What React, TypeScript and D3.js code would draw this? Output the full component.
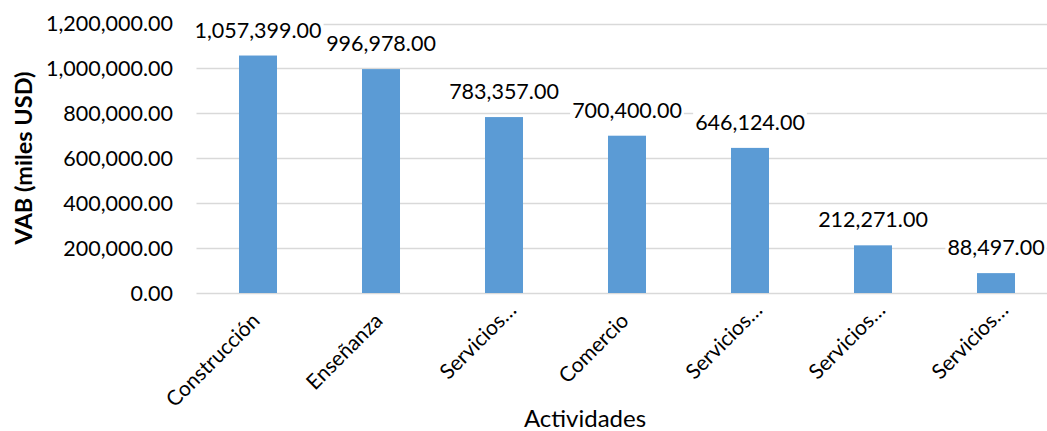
import React, { useEffect, useRef } from "react";
import * as d3 from "d3";

const categories = ["Construcción", "Enseñanza", "Servicios…", "Comercio", "Servicios…", "Servicios…", "Servicios…"];
const values = [1057399, 996978, 783357, 700400, 646124, 212271, 88497];
const yTicks = [0, 200000, 400000, 600000, 800000, 1000000, 1200000];
const yTitle = "VAB (miles USD)";
const xTitle = "Actividades";

const W = 1047;
const H = 431;
const FONT = "Lato, 'Noto Sans', sans-serif";

export default function App() {
  const ref = useRef<SVGSVGElement>(null);
  useEffect(() => {
    const svg = d3.select(ref.current);
    svg.selectAll("*").remove();
    const x0 = 196.5;
    const step = 123;
    const x = d3
      .scaleBand<number>()
      .domain(d3.range(categories.length))
      .range([x0, x0 + step * categories.length])
      .paddingInner(0.691)
      .paddingOuter(0.3455);
    const y = d3.scaleLinear().domain([0, 1200000]).range([293, 23.5]);
    const fmt = d3.format(",.2f");

    svg
      .append("g")
      .selectAll("line")
      .data(yTicks)
      .join("line")
      .attr("x1", x0)
      .attr("x2", x0 + step * categories.length)
      .attr("y1", (d) => Math.round(y(d)) + 0.5)
      .attr("y2", (d) => Math.round(y(d)) + 0.5)
      .attr("stroke", "#d9d9d9")
      .attr("stroke-width", 1.5);

    svg
      .append("g")
      .selectAll("text")
      .data(yTicks)
      .join("text")
      .attr("x", 173)
      .attr("y", (d) => y(d))
      .attr("dy", "0.35em")
      .attr("text-anchor", "end")
      .attr("font-family", FONT)
      .attr("font-size", 21.5)
      .attr("fill", "#000")
      .text((d) => fmt(d));

    svg
      .append("g")
      .selectAll("rect")
      .data(values)
      .join("rect")
      .attr("x", (_, i) => x(i)!)
      .attr("width", x.bandwidth())
      .attr("y", (d) => y(d))
      .attr("height", (d) => y(0) - y(d))
      .attr("fill", "#5b9bd5");

    const lg = svg.append("g");
    values.forEach((v, i) => {
      const cx = x(i)! + x.bandwidth() / 2;
      const g = lg.append("g");
      const bg = g.append("rect").attr("fill", "#fff");
      const t = g
        .append("text")
        .attr("x", cx)
        .attr("y", y(v) - 18)
        .attr("text-anchor", "middle")
        .attr("font-family", FONT)
        .attr("font-size", 21.5)
        .attr("fill", "#000")
        .text(fmt(v));
      const bb = (t.node() as SVGTextElement).getBBox();
      bg.attr("x", bb.x - 2)
        .attr("y", bb.y)
        .attr("width", bb.width + 4)
        .attr("height", bb.height);
    });

    svg
      .append("g")
      .selectAll("text")
      .data(categories)
      .join("text")
      .attr("transform", (_, i) => `translate(${x(i)! + x.bandwidth() / 2 + 3},322) rotate(-45)`)
      .attr("dx", (d) => (d.endsWith("…") ? 15 : 0))
      .attr("text-anchor", "end")
      .attr("font-family", FONT)
      .attr("font-size", 21)
      .attr("fill", "#000")
      .text((d) => d);

    svg
      .append("text")
      .attr("transform", "translate(24,158) rotate(-90)")
      .attr("text-anchor", "middle")
      .attr("dy", "0.35em")
      .attr("font-family", FONT)
      .attr("font-size", 23.5)
      .attr("font-weight", "bold")
      .attr("fill", "#000")
      .text(yTitle);

    svg
      .append("text")
      .attr("x", 585)
      .attr("y", 427)
      .attr("text-anchor", "middle")
      .attr("font-family", FONT)
      .attr("font-size", 24)
      .attr("fill", "#000")
      .text(xTitle);
  }, []);

  return (
    <svg
      ref={ref}
      width={W}
      height={H}
      style={{ position: "absolute", left: 0, top: 0, background: "#fff" }}
    />
  );
}
